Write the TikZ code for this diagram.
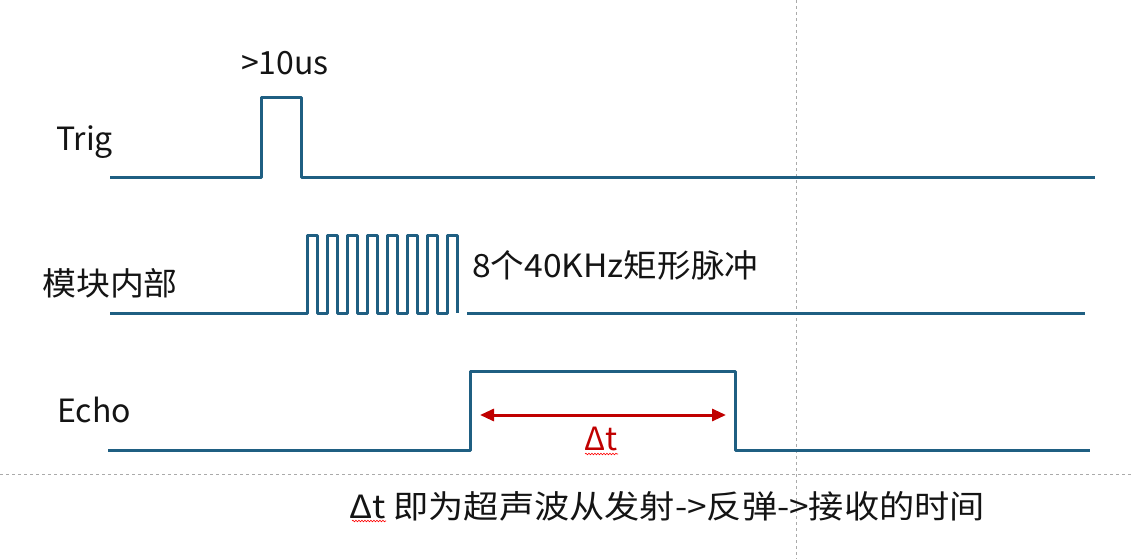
\documentclass[tikz,border=0pt]{standalone}
\usepackage{fontspec}
\setmainfont{Noto Sans CJK SC}
\usetikzlibrary{arrows.meta,decorations.pathmorphing}
\definecolor{sig}{RGB}{31,95,130}
\definecolor{dred}{RGB}{192,0,0}
\definecolor{txt}{RGB}{20,20,20}
\definecolor{guide}{RGB}{170,170,170}
\tikzset{
  signal/.style={draw=sig, line width=3pt, line join=round},
  guideline/.style={draw=guide, line width=0.8pt, dash pattern=on 3pt off 3pt},
  lbl/.style={anchor=base west, inner sep=0pt, text=txt, font=\fontsize{32}{36}\selectfont},
  squig/.style={draw=red, line width=0.6pt, decorate, decoration={snake, amplitude=0.8pt, segment length=3pt}}
}
\begin{document}
\begin{tikzpicture}[x=1pt,y=-1pt]
\useasboundingbox (0,0) rectangle (1132,559);
% guides
\draw[guideline] (796,0) -- (796,559);
\draw[guideline] (0,474) -- (1132,474);
% Trig
\draw[signal] (110,177) -- (261,177) -- (261,98) -- (301,98) -- (301,177) -- (1095,177);
% internal pulses
\draw[signal] (110,313) -- (307,313)
  -- (307,235) -- (317,235) -- (317,313) -- (327,313)
  -- (327,235) -- (337,235) -- (337,313) -- (347,313)
  -- (347,235) -- (357,235) -- (357,313) -- (367,313)
  -- (367,235) -- (377,235) -- (377,313) -- (387,313)
  -- (387,235) -- (397,235) -- (397,313) -- (407,313)
  -- (407,235) -- (417,235) -- (417,313) -- (427,313)
  -- (427,235) -- (437,235) -- (437,313) -- (447,313)
  -- (447,235) -- (457,235) -- (457,313);
\draw[signal] (467,313) -- (1085,313);
% Echo
\draw[signal] (108,450) -- (470,450) -- (470,371) -- (735,371) -- (735,450) -- (1090,450);
% delta t arrow
\coordinate (al) at (480,415);
\coordinate (ar) at (726,415);
\draw[dred, line width=3pt, {Triangle[length=14pt,width=12pt]}-{Triangle[length=14pt,width=12pt]}] (al) -- (ar);
% labels
\node[lbl] (tw) at (241,75) {>10us};
\node[lbl] (trig) at (56,150) {Trig};
\node[lbl, xscale=1.06] (mod) at (42,295) {模块内部};
\node[lbl] (echo) at (57,422) {Echo};
\node[lbl, xscale=1.05] (pul) at (472,277) {8个40KHz矩形脉冲};
\node[lbl, text=dred] (dt) at (584,450) {Δt};
\draw[squig] (585,454) -- (618,454);
\node[lbl, xscale=1.1] (note) at (349,518) {Δt 即为超声波从发射->反弹->接收的时间};
\draw[squig] (352,521) -- (386,521);
\end{tikzpicture}
\end{document}
